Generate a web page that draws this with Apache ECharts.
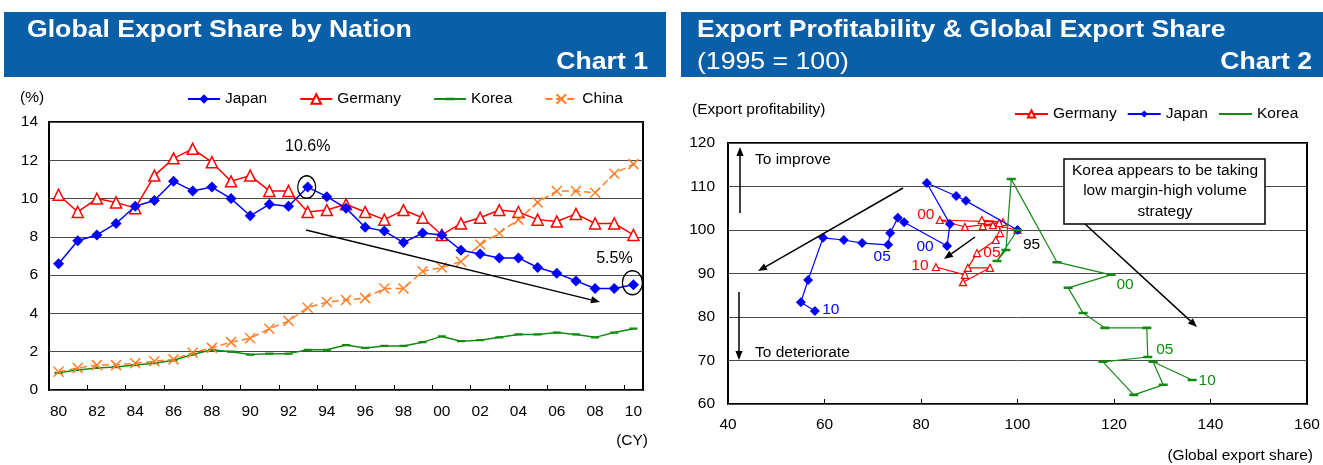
<!DOCTYPE html>
<html>
<head>
<meta charset="utf-8">
<script src="https://cdn.jsdelivr.net/npm/echarts@6/dist/echarts.min.js"></script>
<style>
  html, body { margin: 0; padding: 0; background: #fff; }
  #main { width: 1323px; height: 465px; }
</style>
</head>
<body>
<div id="main"></div>
<script>
// ---- Chart 1: global export share by nation (%), calendar years 1980-2010 ----
const years = ['80','81','82','83','84','85','86','87','88','89','90','91','92','93','94','95',
               '96','97','98','99','00','01','02','03','04','05','06','07','08','09','10'];
const japanShare   = [6.6, 7.8, 8.1, 8.7, 9.6, 9.9, 10.9, 10.4, 10.6, 10.0, 9.1, 9.7, 9.6, 10.6, 10.1,
                      9.5, 8.5, 8.3, 7.7, 8.2, 8.1, 7.3, 7.1, 6.9, 6.9, 6.4, 6.1, 5.7, 5.3, 5.3, 5.5];
const germanyShare = [10.2, 9.3, 10.0, 9.8, 9.5, 11.2, 12.1, 12.6, 11.9, 10.9, 11.2, 10.4, 10.4, 9.3, 9.4,
                      9.7, 9.3, 8.9, 9.4, 9.0, 8.1, 8.7, 9.0, 9.4, 9.3, 8.9, 8.8, 9.2, 8.7, 8.7, 8.1];
const koreaShare   = [0.9, 1.05, 1.15, 1.2, 1.3, 1.4, 1.55, 1.85, 2.1, 2.0, 1.85, 1.9, 1.9, 2.1, 2.1,
                      2.35, 2.2, 2.3, 2.3, 2.5, 2.8, 2.55, 2.6, 2.75, 2.9, 2.9, 3.0, 2.9, 2.75, 3.0, 3.2];
const chinaShare   = [0.95, 1.15, 1.3, 1.3, 1.4, 1.5, 1.6, 1.95, 2.2, 2.5, 2.7, 3.2, 3.6, 4.3, 4.6,
                      4.7, 4.8, 5.3, 5.3, 6.2, 6.4, 6.7, 7.6, 8.2, 8.9, 9.8, 10.4, 10.4, 10.3, 11.3, 11.8];
const shareTicks = { min: 0, max: 14, step: 2 };
const peakYear = '93';   // annotated high
const lastYear = '10';   // annotated latest

// ---- Chart 2: export profitability vs global export share, 1995 = 100 ----
const pathYears        = ['95','96','97','98','99','00','01','02','03','04','05','06','07','08','09','10'];
const germanyShareIdx  = [100, 94.9, 92.8, 92.6, 97.0, 83.9, 89.1, 96.2, 96.4, 95.5, 91.6, 89.7, 94.3, 88.7, 89.1, 83.1];
const germanyProfit    = [100, 101.1, 100.9, 102.3, 101.8, 102.3, 100.7, 101.6, 99.3, 97.7, 94.7, 91.3, 91.3, 88.0, 89.7, 91.5];
const japanShareIdx    = [100, 89.3, 87.3, 81.2, 86.0, 85.4, 76.5, 75.2, 73.6, 73.2, 67.8, 64.0, 59.7, 56.6, 55.1, 58.0];
const japanProfit      = [100, 106.7, 107.8, 110.8, 101.4, 96.3, 101.8, 102.8, 99.3, 96.6, 97.0, 97.7, 98.2, 88.5, 83.4, 81.4];
const koreaShareIdx    = [100, 95.75, 97.6, 98.7, 108.2, 119.4, 110.5, 113.6, 118.1, 126.8, 127.0, 117.7, 124.1, 130.2, 128.1, 136.2];
const koreaProfit      = [100, 92.9, 95.4, 111.7, 92.6, 89.7, 86.7, 80.9, 77.5, 77.5, 70.8, 69.7, 62.1, 64.4, 69.7, 65.5];
const scatterX = { min: 40, max: 160, step: 20 };
const scatterY = { min: 60, max: 120, step: 10 };

// ---- styles ----
const FONT = '"Liberation Sans", Arial, sans-serif';
const BLUE = '#0000ff', RED = '#ff0000', GREEN = '#138a13', ORANGE = '#ff7f27', BANNER = '#0b5fa6';
const SYM_X = 'path://M0,0L10,10M10,0L0,10';
// a flat dash centred in a square box (tiny corner specks keep the box square)
const SYM_DASH = 'path://M0,0L0.01,0L0,0.01Z M0,3.6H10V6.4H0Z M10,10L9.99,10L10,9.99Z';
const txt = { fontFamily: FONT, fontSize: 15.5, color: '#000' };

// pairs for the trajectory chart, with optional year tags (offset in px from the point)
function pathData(xs, ys, tags, color) {
  return xs.map((x, i) => {
    const item = { value: [x, ys[i]] };
    const t = tags[i];
    if (t) {
      item.label = {
        show: true, position: 'inside', offset: t.off, formatter: t.text || pathYears[i],
        color: t.color || color, fontFamily: FONT, fontSize: 15.5
      };
    }
    return item;
  });
}

function arrow(x1, y1, x2, y2) {
  const a = Math.atan2(y2 - y1, x2 - x1);
  const L = 9, W = 3.6;
  const bx = x2 - L * Math.cos(a), by = y2 - L * Math.sin(a);
  return [
    { type: 'line', silent: true, shape: { x1, y1, x2: bx, y2: by }, style: { stroke: '#000', lineWidth: 1.5 } },
    { type: 'polygon', silent: true, shape: { points: [[x2, y2], [bx + W * Math.sin(a), by - W * Math.cos(a)], [bx - W * Math.sin(a), by + W * Math.cos(a)]] }, style: { fill: '#000' } }
  ];
}

function headText(x, y, text, bold, align) {
  return {
    type: 'text', silent: true, x, y, scaleX: 1.11,
    style: { text, fill: '#fff', font: (bold ? 'bold ' : '') + '24px ' + FONT, textAlign: align || 'left', textVerticalAlign: 'middle' }
  };
}

const chart = echarts.init(document.getElementById('main'), null, { renderer: 'canvas' });

const japanLine1 = japanShare.map((v, i) => {
  if (years[i] === peakYear || years[i] === lastYear) {
    const off = years[i] === peakYear ? [0, -40] : [-19, -26];
    return { value: v, label: { show: true, position: 'inside', offset: off, formatter: '{c}%', fontFamily: FONT, fontSize: 16, color: '#000' } };
  }
  return v;
});

const option = {
  animation: false,
  textStyle: { fontFamily: FONT },
  grid: [
    { left: 49, top: 122, width: 594, height: 268, show: true, borderColor: '#000', borderWidth: 2, backgroundColor: 'transparent' },
    { left: 728, top: 143, width: 579, height: 261, show: true, borderColor: '#000', borderWidth: 2, backgroundColor: 'transparent' }
  ],
  legend: [
    {
      left: 182, top: 86, itemGap: 32, itemWidth: 32, itemHeight: 12,
      textStyle: { ...txt }, data: ['Japan', 'Germany', 'Korea', 'China'], selectedMode: false
    },
    {
      left: 1009, top: 101, itemGap: 10, itemWidth: 33, itemHeight: 9,
      textStyle: { ...txt }, data: ['Germany', 'Japan', 'Korea'], selectedMode: false
    }
  ],
  xAxis: [
    {
      gridIndex: 0, type: 'category', data: years, boundaryGap: true,
      axisLine: { show: false },
      axisTick: { show: true, inside: true, interval: 1, length: 5, lineStyle: { color: '#000', width: 1 } },
      axisLabel: { interval: 1, margin: 14, ...txt },
      splitLine: { show: false }
    },
    {
      gridIndex: 1, type: 'value', min: scatterX.min, max: scatterX.max, interval: scatterX.step,
      axisLine: { show: false },
      axisTick: { show: true, inside: true, length: 5, lineStyle: { color: '#000' } },
      axisLabel: { margin: 13, ...txt },
      splitLine: { show: false }
    }
  ],
  yAxis: [
    {
      gridIndex: 0, type: 'value', min: shareTicks.min, max: shareTicks.max, interval: shareTicks.step,
      axisLine: { show: false }, axisTick: { show: false },
      axisLabel: { margin: 11, ...txt },
      splitLine: { show: true, lineStyle: { color: '#4a4a4a', width: 1 } }
    },
    {
      gridIndex: 1, type: 'value', min: scatterY.min, max: scatterY.max, interval: scatterY.step,
      axisLine: { show: false }, axisTick: { show: false },
      axisLabel: { margin: 13, ...txt },
      splitLine: { show: true, lineStyle: { color: '#4a4a4a', width: 1 } }
    }
  ],
  series: [
    {
      name: 'Germany', type: 'line', xAxisIndex: 0, yAxisIndex: 0, data: germanyShare,
      symbol: 'triangle', symbolSize: 11, showAllSymbol: true,
      itemStyle: { color: '#fff', borderColor: RED, borderWidth: 1.5 },
      lineStyle: { color: RED, width: 1.5 }, z: 3
    },
    {
      name: 'Korea', type: 'line', xAxisIndex: 0, yAxisIndex: 0, data: koreaShare,
      symbol: SYM_DASH, symbolSize: 8, showAllSymbol: true,
      itemStyle: { color: GREEN }, lineStyle: { color: GREEN, width: 1.5 }, z: 2
    },
    {
      name: 'China', type: 'line', xAxisIndex: 0, yAxisIndex: 0, data: chinaShare,
      symbol: SYM_X, symbolSize: 10, showAllSymbol: true,
      itemStyle: { color: 'transparent', borderColor: ORANGE, borderWidth: 1.5 },
      lineStyle: { color: ORANGE, width: 1.5, type: [7, 4] }, z: 3
    },
    {
      name: 'Japan', type: 'line', xAxisIndex: 0, yAxisIndex: 0, data: japanLine1,
      symbol: 'diamond', symbolSize: 11, showAllSymbol: true,
      itemStyle: { color: BLUE }, lineStyle: { color: BLUE, width: 1.5 }, z: 4
    },
    {
      name: 'Germany', type: 'line', xAxisIndex: 1, yAxisIndex: 1,
      data: pathData(germanyShareIdx, germanyProfit, { 5: { off: [-14, -5] }, 10: { off: [15, 0] }, 15: { off: [-16, -1] } }, RED),
      symbol: 'triangle', symbolSize: 7, showAllSymbol: true,
      itemStyle: { color: '#fff', borderColor: RED, borderWidth: 1.2 },
      lineStyle: { color: RED, width: 1.2 }, z: 3
    },
    {
      name: 'Japan', type: 'line', xAxisIndex: 1, yAxisIndex: 1,
      data: pathData(japanShareIdx, japanProfit, { 5: { off: [-22, 1] }, 10: { off: [20, 14] }, 15: { off: [16, -1] } }, BLUE),
      symbol: 'diamond', symbolSize: 10, showAllSymbol: true,
      itemStyle: { color: BLUE }, lineStyle: { color: BLUE, width: 1.2 }, z: 4
    },
    {
      name: 'Korea', type: 'line', xAxisIndex: 1, yAxisIndex: 1,
      data: pathData(koreaShareIdx, koreaProfit, { 0: { off: [14, 15], color: '#000' }, 5: { off: [14, 10] }, 10: { off: [17, -7] }, 15: { off: [15, 1] } }, GREEN),
      symbol: SYM_DASH, symbolSize: 9, showAllSymbol: true,
      itemStyle: { color: GREEN }, lineStyle: { color: GREEN, width: 1.2 }, z: 5
    }
  ]
};

chart.setOption(option);

// annotations: banners, notes, trend arrows, and rings round two marked points
const peakPx = chart.convertToPixel({ xAxisIndex: 0, yAxisIndex: 0 }, [peakYear, japanShare[years.indexOf(peakYear)]]);
const lastPx = chart.convertToPixel({ xAxisIndex: 0, yAxisIndex: 0 }, [lastYear, japanShare[years.indexOf(lastYear)]]);

const graphics = [
  { type: 'rect', silent: true, shape: { x: 4, y: 12, width: 662, height: 65 }, style: { fill: BANNER } },
  { type: 'rect', silent: true, shape: { x: 681, y: 12, width: 642, height: 65 }, style: { fill: BANNER } },
  headText(27, 30, 'Global Export Share by Nation', true),
  headText(648, 62, 'Chart 1', true, 'right'),
  headText(697, 30, 'Export Profitability & Global Export Share', true),
  headText(697, 62, '(1995 = 100)', false),
  headText(1312, 62, 'Chart 2', true, 'right'),

  { type: 'text', silent: true, x: 20, y: 98, style: { text: '(%)', fill: '#000', font: '15.5px ' + FONT, textVerticalAlign: 'middle' } },
  { type: 'text', silent: true, x: 648, y: 441, style: { text: '(CY)', fill: '#000', font: '15.5px ' + FONT, textAlign: 'right', textVerticalAlign: 'middle' } },
  { type: 'text', silent: true, x: 692, y: 110, style: { text: '(Export profitability)', fill: '#000', font: '15.5px ' + FONT, textVerticalAlign: 'middle' } },
  { type: 'text', silent: true, x: 1313, y: 456, style: { text: '(Global export share)', fill: '#000', font: '15.5px ' + FONT, textAlign: 'right', textVerticalAlign: 'middle' } },
  { type: 'text', silent: true, x: 755, y: 160, style: { text: 'To improve', fill: '#000', font: '15.5px ' + FONT, textVerticalAlign: 'middle' } },
  { type: 'text', silent: true, x: 755, y: 353, style: { text: 'To deteriorate', fill: '#000', font: '15.5px ' + FONT, textVerticalAlign: 'middle' } },

  { type: 'rect', silent: true, z: 10, shape: { x: 1064, y: 159, width: 201, height: 65 }, style: { fill: '#fff', stroke: '#000', lineWidth: 1.5 } },
  { type: 'text', silent: true, z: 11, x: 1165, y: 191, style: { text: 'Korea appears to be taking\nlow margin-high volume\nstrategy', fill: '#000', font: '15.5px ' + FONT, textAlign: 'center', textVerticalAlign: 'middle', lineHeight: 20.5 } },

  { type: 'circle', silent: true, z: 10, x: peakPx[0] - 1, y: peakPx[1], scaleY: 1.25, shape: { cx: 0, cy: 0, r: 9 }, style: { fill: 'none', stroke: '#000', lineWidth: 1.2 } },
  { type: 'circle', silent: true, z: 10, x: lastPx[0] - 1, y: lastPx[1] - 2, scaleY: 1.2, shape: { cx: 0, cy: 0, r: 10 }, style: { fill: 'none', stroke: '#000', lineWidth: 1.2 } }
]
  .concat(arrow(306, 230, 600, 302))
  .concat(arrow(740, 213, 740, 147))
  .concat(arrow(739, 292, 739, 360))
  .concat(arrow(903, 188, 758, 271))
  .concat(arrow(975, 237, 944, 259))
  .concat(arrow(1085, 224, 1197, 327));

chart.setOption({ graphic: graphics.map(g => Object.assign({ z: g.z || 10 }, g)) });
</script>
</body>
</html>
